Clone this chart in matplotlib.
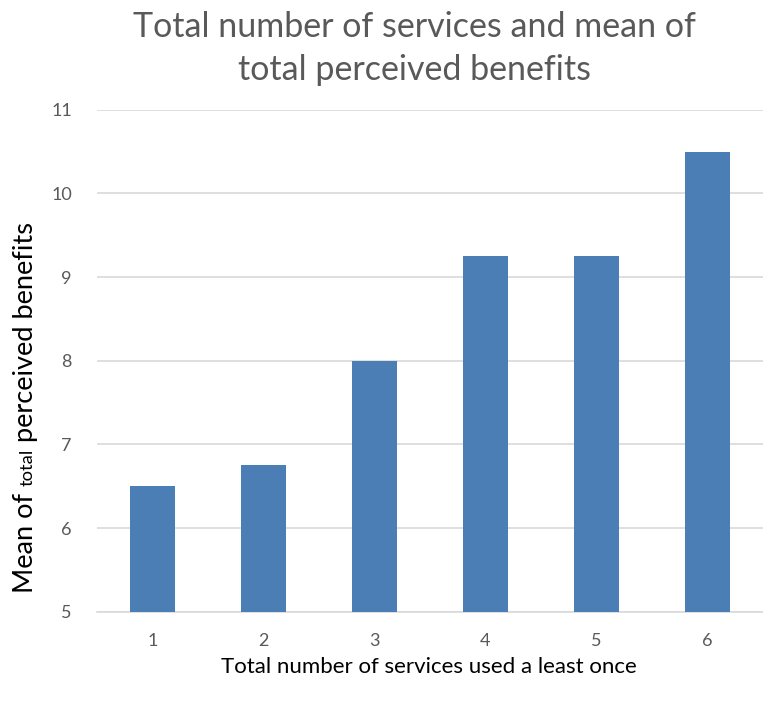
import matplotlib
matplotlib.use("Agg")
import matplotlib.pyplot as plt

plt.rcParams['font.family'] = ['Lato', 'DejaVu Sans']

# datos
servicios = [1, 2, 3, 4, 5, 6]
media_beneficios = [6.5, 6.75, 8.0, 9.25, 9.25, 10.5]
etiquetas_x = ['1', '2', '3', '4', '5', '6']
ticks_y = [5, 6, 7, 8, 9, 10, 11]

gris = '#595959'

fig = plt.figure(figsize=(7.63, 7.04), dpi=100)
ax = fig.add_axes([0.127, 0.131, 0.873, 0.713])

ax.bar(servicios, media_beneficios, width=0.4, color='#4a7eb4', zorder=3)

ax.set_xlim(0.5, 6.5)
ax.set_ylim(5, 11)
ax.set_yticks(ticks_y)
ax.set_xticks(servicios)
ax.set_xticklabels(etiquetas_x)
ax.tick_params(axis='both', length=0, colors=gris, labelsize=13)
ax.tick_params(axis='x', pad=15)
ax.tick_params(axis='y', pad=18)
ax.grid(axis='y', color='#d9d9d9', linewidth=1.2, zorder=0)
for lado in ['top', 'right', 'left']:
    ax.spines[lado].set_visible(False)
ax.spines['bottom'].set_color('#d9d9d9')
ax.spines['bottom'].set_linewidth(1.2)

# titulo en dos lineas
fig.text(0.543, 0.961, 'Total number of services and mean of', ha='center', va='center',
         fontsize=24.5, color=gris)
fig.text(0.543, 0.900, 'total perceived benefits', ha='center', va='center',
         fontsize=24.5, color=gris)

fig.text(0.562, 0.053, 'Total number of services used a least once', ha='center', va='center',
         fontsize=16, color='black')

# etiqueta del eje y con "total" mas pequeño
x_base = 33 / 763
t1 = fig.text(x_base, 1 - 593 / 704, 'Mean of ', rotation=90, rotation_mode='anchor',
              ha='left', va='baseline', fontsize=19.6, color='black')
t2 = ax.annotate('total', xy=(x_base, 1), xycoords=('figure fraction', t1),
                 rotation=90, rotation_mode='anchor', ha='left', va='baseline',
                 fontsize=13.2, color='black', annotation_clip=False)
t3 = ax.annotate(' perceived benefits', xy=(x_base, 1), xycoords=('figure fraction', t2),
                 rotation=90, rotation_mode='anchor', ha='left', va='baseline',
                 fontsize=19.6, color='black', annotation_clip=False)

fig.savefig('out.png', dpi=100)
